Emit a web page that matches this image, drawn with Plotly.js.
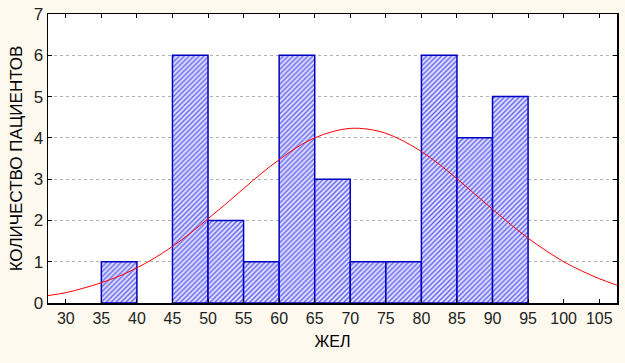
<!DOCTYPE html>
<html>
<head>
<meta charset="utf-8">
<script src="https://cdn.plot.ly/plotly-3.0.1.min.js"></script>
<style>
  body { margin: 0; background: #fdf9ee; }
  #chart { width: 625px; height: 363px; }
</style>
</head>
<body>
<div id="chart"></div>
<script>
// histogram bins (left edge, width 5) and counts
const binStart = [35, 40, 45, 50, 55, 60, 65, 70, 75, 80, 85, 90];
const counts   = [1, 0, 6, 2, 1, 6, 3, 1, 1, 6, 4, 5];

// expected normal curve
const curveX = [27.5, 30, 32.5, 35, 37.5, 40, 42.5, 45, 47.5, 50, 52.5, 55, 57.5, 60, 62.5, 65, 67.5,
                70, 72.5, 75, 77.5, 80, 82.5, 85, 87.5, 90, 92.5, 95, 97.5, 100, 102.5, 105, 107.5];
const curveY = [0.18, 0.25, 0.36, 0.49, 0.65, 0.85, 1.09, 1.37, 1.69, 2.04, 2.40, 2.77, 3.14, 3.47, 3.77, 4.00, 4.15,
                4.23, 4.21, 4.11, 3.92, 3.67, 3.36, 3.01, 2.64, 2.27, 1.91, 1.57, 1.27, 1.00, 0.78, 0.59, 0.43];

const xTicks = [30, 35, 40, 45, 50, 55, 60, 65, 70, 75, 80, 85, 90, 95, 100, 105];

const bars = {
  x: binStart,
  y: counts.map(c => (c === 0 ? null : c)), // empty bin: no outline
  type: "bar",
  width: 5,
  offset: 0,
  marker: {
    color: "#ffffff",
    line: { color: "#0000c0", width: 1.5 },
    pattern: { shape: "/", fgcolor: "#5c5cf0", bgcolor: "#e4e4ff", size: 3.5, solidity: 0.4 }
  },
  hoverinfo: "x+y"
};

const curve = {
  x: curveX,
  y: curveY,
  type: "scatter",
  mode: "lines",
  line: { color: "#ff0000", width: 1, shape: "spline" }
};

const layout = {
  width: 625,
  height: 363,
  margin: { l: 48, r: 8, t: 14, b: 60 },
  paper_bgcolor: "#fdf9ee",
  plot_bgcolor: "#ffffff",
  showlegend: false,
  bargap: 0,
  font: { family: "Liberation Sans, Arial, sans-serif", color: "#000000", size: 15 },
  xaxis: {
    range: [27.5, 107.5],
    tickvals: xTicks,
    ticks: "inside",
    ticklen: 4,
    tickcolor: "#000",
    showgrid: false,
    zeroline: false,
    showline: true,
    linecolor: "#000",
    linewidth: 1.5,
    mirror: "ticks",
    tickfont: { size: 16, color: "#222" },
    title: { text: "ЖЕЛ", font: { size: 16 }, standoff: 10 }
  },
  yaxis: {
    range: [0, 7],
    dtick: 1,
    ticks: "inside",
    ticklen: 4,
    tickcolor: "#000",
    showgrid: true,
    gridcolor: "#b0b0b0",
    griddash: "dot",
    gridwidth: 1,
    zeroline: false,
    showline: true,
    linecolor: "#000",
    linewidth: 1.5,
    mirror: "ticks",
    tickfont: { size: 17, color: "#222" },
    title: { text: "КОЛИЧЕСТВО ПАЦИЕНТОВ", font: { size: 17 }, standoff: 6 }
  }
};

Plotly.newPlot("chart", [bars, curve], layout, { displayModeBar: false, staticPlot: true });
</script>
</body>
</html>
